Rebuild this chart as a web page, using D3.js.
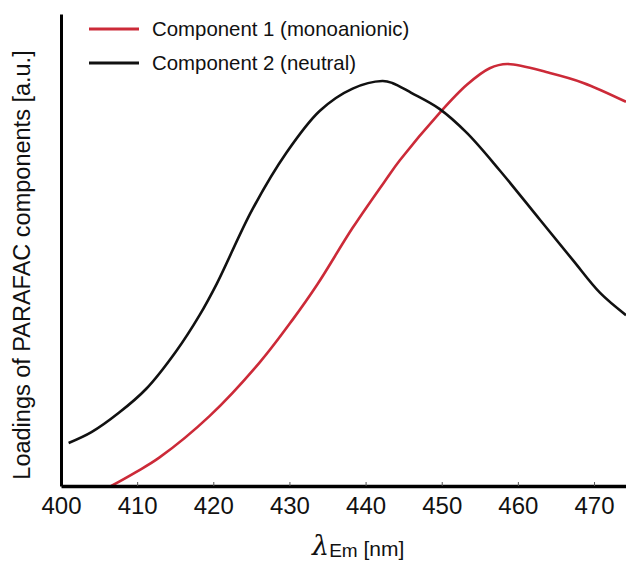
<!DOCTYPE html>
<html lang="en">
    <head>
       <meta charset="utf-8">
       <script src="https://d3js.org/d3.v7.min.js"></script>
       <style>
           body { margin: 0; background: #fff; }
           text { font-family: "Liberation Sans", Arial, sans-serif; fill: #111; }
       </style>
    </head>
    <body>

        <script>
            var width  = 626;
            var height = 563;

            // emission wavelength (nm) and loadings
            var comp1_nm = [406.6, 409.9, 412.9, 419.5, 426.1, 430.4, 433.7, 438.3, 442.8, 444.5, 449.7, 453.3, 456.3, 458.6, 464.2, 468.6, 474.2];
            var comp1_val = [0.000, 0.030, 0.060, 0.148, 0.262, 0.352, 0.428, 0.547, 0.652, 0.690, 0.790, 0.850, 0.885, 0.894, 0.875, 0.854, 0.814];

            var comp2_nm = [401.0, 404.0, 407.6, 411.2, 415.1, 418.2, 420.5, 425.1, 429.6, 434.0, 438.3, 442.2, 443.5, 446.0, 449.7, 453.3, 457.6, 462.9, 467.2, 470.8, 474.2];
            var comp2_val = [0.091, 0.114, 0.155, 0.206, 0.285, 0.362, 0.430, 0.585, 0.706, 0.795, 0.842, 0.858, 0.854, 0.833, 0.799, 0.748, 0.669, 0.564, 0.479, 0.409, 0.362];

            var x_ticks = [400, 410, 420, 430, 440, 450, 460, 470];
            var legend_labels = ["Component 1 (monoanionic)", "Component 2 (neutral)"];
            var colours = ["#cc2a38", "#111111"];

            var x = d3.scaleLinear().domain([400, 474.2]).range([61, 626]);
            var y = d3.scaleLinear().domain([0, 1]).range([486, 14]);

            // setup the canvas
            var svg = d3.select("body")
                        .append("svg")
                        .attr("width", width)
                        .attr("height", height);

            svg.append("clipPath").attr("id", "plot")
               .append("rect")
               .attr("x", 61).attr("y", 0)
               .attr("width", width - 61).attr("height", 486);

            var line = d3.line()
                         .x(function(d) { return x(d[0]); })
                         .y(function(d) { return y(d[1]); })
                         .curve(d3.curveCatmullRom.alpha(0.5));

            var series = [d3.zip(comp1_nm, comp1_val), d3.zip(comp2_nm, comp2_val)];

            svg.append("g").attr("clip-path", "url(#plot)")
               .selectAll("path")
               .data(series)
               .enter().append("path")
               .attr("d", line)
               .attr("fill", "none")
               .attr("stroke", function(d, i) { return colours[i]; })
               .attr("stroke-width", 2.6);

            // axes
            var xAxis = svg.append("g")
                           .attr("transform", "translate(0,486)")
                           .call(d3.axisBottom(x).tickValues(x_ticks).tickSizeInner(-4).tickSizeOuter(0).tickPadding(11));
            xAxis.select(".domain").attr("stroke", "#000").attr("stroke-width", 3.5);
            xAxis.selectAll(".tick line").attr("stroke", "#555").attr("stroke-width", 1);
            xAxis.selectAll(".tick text")
                 .attr("font-size", 24)
                 .attr("font-family", "Liberation Sans, Arial, sans-serif")
                 .attr("fill", "#111");

            var yAxis = svg.append("g")
                           .attr("transform", "translate(61,0)")
                           .call(d3.axisLeft(y).tickValues([]).tickSizeOuter(0));
            yAxis.select(".domain").attr("stroke", "#000").attr("stroke-width", 3);

            // axis titles
            var xt = svg.append("text")
                        .attr("x", 312).attr("y", 555);
            xt.append("tspan").text("\u03bb")
              .attr("font-size", 27).attr("font-style", "italic")
              .style("font-family", "DejaVu Serif, serif");
            xt.append("tspan").text("Em").attr("font-size", 19).attr("dy", 2);
            xt.append("tspan").text(" [nm]").attr("font-size", 21).attr("dy", -1);

            svg.append("text")
               .attr("transform", "translate(30,265) rotate(-90)")
               .attr("text-anchor", "middle")
               .attr("font-size", 23.5)
               .text("Loadings of PARAFAC components [a.u.]");

            // legend
            var leg = svg.selectAll(".legend")
                         .data(legend_labels)
                         .enter().append("g")
                         .attr("class", "legend")
                         .attr("transform", function(d, i) { return "translate(0," + (29 + i * 34) + ")"; });
            leg.append("line")
               .attr("x1", 89).attr("x2", 139)
               .attr("stroke", function(d, i) { return colours[i]; })
               .attr("stroke-width", 3);
            leg.append("text")
               .attr("x", 152).attr("y", 7)
               .attr("font-size", 20.4)
               .text(function(d) { return d; });
        </script>

    </body>
</html>
